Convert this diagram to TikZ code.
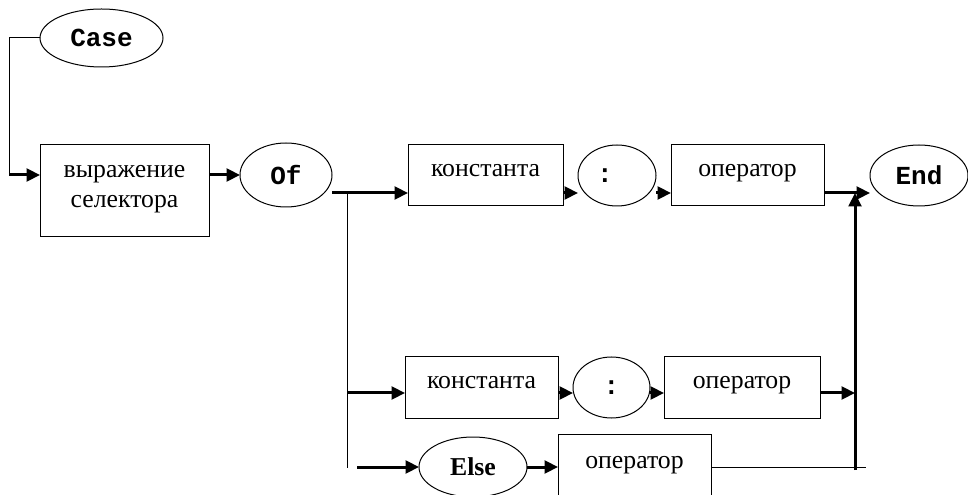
\documentclass[tikz,border=0pt]{standalone}
\usepackage{fontspec}
\setmainfont{Liberation Serif}
\setmonofont{Liberation Mono}
\usetikzlibrary{shapes.geometric,arrows.meta,calc}

\tikzset{
  base/.style={inner sep=0pt, outer sep=0pt, font=\fontsize{19.3}{22.5}\selectfont},
  stepbox/.style={base, draw, line width=0.75pt, rectangle,
                  text height=9pt, text depth=7.5pt, align=center},
  oval/.style={base, draw, line width=0.75pt, ellipse},
  kw/.style={oval, font=\fontsize{19.5}{22.5}\selectfont\ttfamily\bfseries},
  flow/.style={line width=2.25pt, -{Triangle[length=10pt,width=9.5pt]}},
  rail/.style={line width=0.75pt},
}

\begin{document}
\begin{tikzpicture}[x=0.75pt,y=-0.75pt]
\useasboundingbox (0,0) rectangle (968,495);

% syntax elements
\node[kw, minimum width=92.25pt, minimum height=43.5pt] (case) at (101.5,38) {Case};
\node[stepbox, minimum width=126.75pt, minimum height=69pt, text height=31.5pt, text depth=6.75pt] (sel) at (124.5,191) {выражение\\селектора};
\node[kw, minimum width=69pt, minimum height=48pt] (of) at (286,175) {Of};

\node[stepbox, minimum width=116.25pt, minimum height=45.75pt] (c1) at (485.5,175.5) {константа};
\node[kw, minimum width=58.5pt, minimum height=45.75pt] (k1) at (617,175.5) {:\hspace*{18pt}};
\node[stepbox, minimum width=114.75pt, minimum height=45.75pt] (o1) at (747.5,175.5) {оператор};
\node[kw, minimum width=73.5pt, minimum height=45.75pt] (end) at (919,175.5) {End};

\node[stepbox, minimum width=114.75pt, minimum height=45.75pt] (c2) at (481.5,387.5) {константа};
\node[kw, minimum width=57.75pt, minimum height=45.75pt] (k2) at (611.5,387.5) {:};
\node[stepbox, minimum width=117pt, minimum height=45.75pt] (o2) at (742,387.5) {оператор};

\node[oval, font=\fontsize{19.3}{22.5}\selectfont\bfseries, minimum width=81pt, minimum height=45pt] (else) at (473,467) {Else};
\node[stepbox, minimum width=114.75pt, minimum height=49.5pt] (o3) at (634.5,467) {оператор};

% junction points of the rails
\coordinate (lp) at (9,175);
\coordinate (j1) at (347,193);
\coordinate (j1b) at (347,468);
\coordinate (b2) at (347,393);
\coordinate (j2) at (855,470);
\coordinate (e0) at (357,467);
\coordinate (e1) at (866,467);

% rails
\draw[rail] (case.west) -| (lp);
\draw[flow] (lp) -- (sel.west |- of.center);
\draw[flow] (sel.east |- of.center) -- (of.west);
\draw[flow] ($(of.east)+(0,18)$) -- (c1.west |- j1);
\draw[rail] (j1) -- (j1b);

\draw[flow] (c1.east |- j1) -- (k1.west |- j1);
\draw[flow] (k1.east |- j1) -- (o1.west |- j1);
\draw[flow] (o1.east |- j1) -- (end.west |- j1);
\draw[flow] (j2) -- (j2 |- j1);

\draw[flow] (b2) -- (c2.west |- b2);
\draw[flow] (c2.east |- b2) -- (k2.west |- b2);
\draw[flow] (k2.east |- b2) -- (o2.west |- b2);
\draw[flow] (o2.east |- b2) -- (j2 |- b2);

\draw[flow] (e0) -- (else.west);
\draw[flow] (else.east) -- (o3.west |- else.center);
\draw[rail] (o3.east |- e1) -- (e1);
\end{tikzpicture}
\end{document}
